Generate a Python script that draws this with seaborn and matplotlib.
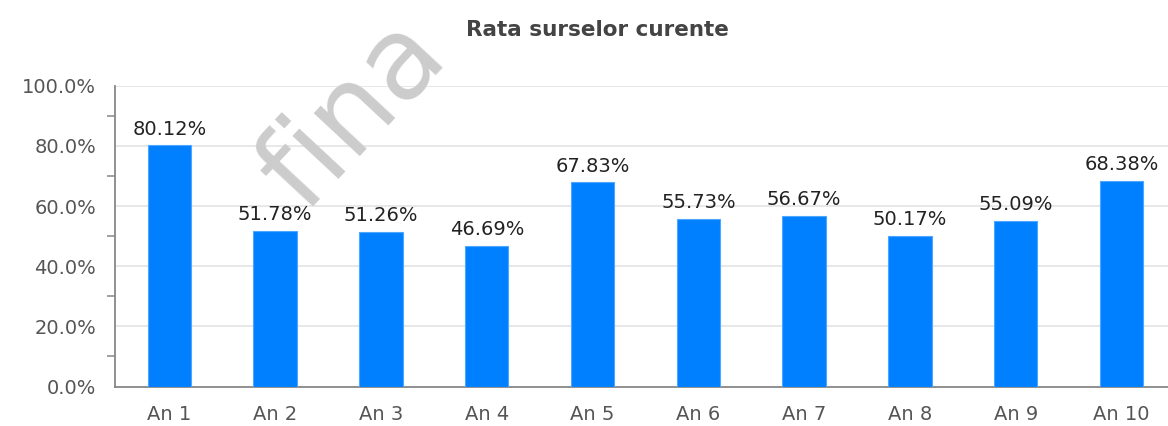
import pandas as pd
import matplotlib
matplotlib.use("Agg")
import matplotlib.pyplot as plt
from matplotlib.ticker import FuncFormatter, MultipleLocator
import seaborn as sns

# data
ani = ["An 1", "An 2", "An 3", "An 4", "An 5", "An 6", "An 7", "An 8", "An 9", "An 10"]
rata = [80.12, 51.78, 51.26, 46.69, 67.83, 55.73, 56.67, 50.17, 55.09, 68.38]
titlu = "Rata surselor curente"

df = pd.DataFrame({"an": ani, "rata": rata})

sns.set_style("white")
plt.rcParams["font.family"] = ["DejaVu Sans"]

fig = plt.figure(figsize=(11.68, 4.26), dpi=100)
ax = fig.add_axes([115 / 1168, 1 - 386.5 / 426, 1 - 115 / 1168, (386.5 - 85.7) / 426])

# watermark behind the chart
fig.text(304 / 1168, 1 - 214 / 426, "fina", rotation=47, fontsize=82,
         color="#cccccc", ha="left", va="baseline", zorder=0,
         rotation_mode="anchor")
ax.set_facecolor("none")

sns.barplot(x="an", y="rata", data=df, color="#0080ff", width=0.41,
            saturation=1, edgecolor="#4da6ff", linewidth=0.8, ax=ax, zorder=3)

ax.bar_label(ax.containers[0], labels=[f"{v:.2f}%" for v in rata],
             padding=5, fontsize=14, color="#222222")

ax.set_ylim(0, 100)
ax.set_xlim(-0.514, 9.439)
ax.yaxis.set_major_locator(MultipleLocator(20))
ax.yaxis.set_minor_locator(MultipleLocator(10))
ax.yaxis.set_major_formatter(FuncFormatter(lambda v, p: f"{v:.1f}%"))
ax.grid(axis="y", which="major", color="#e6e6e6", linewidth=1.3, zorder=0)
ax.set_axisbelow(True)

ax.tick_params(axis="y", which="major", length=7.5, width=1.1, color="#888888",
               labelsize=14, labelcolor="#555555", pad=6)
ax.tick_params(axis="y", which="minor", length=5.5, width=1.1, color="#888888", left=True)
ax.tick_params(axis="x", length=0, labelsize=14, labelcolor="#555555", pad=13)

for s in ["top", "right"]:
    ax.spines[s].set_visible(False)
for s in ["left", "bottom"]:
    ax.spines[s].set_color("#888888")
    ax.spines[s].set_linewidth(1.3)

ax.set_xlabel("")
ax.set_ylabel("")

fig.text(597 / 1168, 1 - 30 / 426, titlu, ha="center", va="center",
         fontsize=15.5, fontweight="bold", color="#444444")

fig.savefig("out.png", dpi=100)
